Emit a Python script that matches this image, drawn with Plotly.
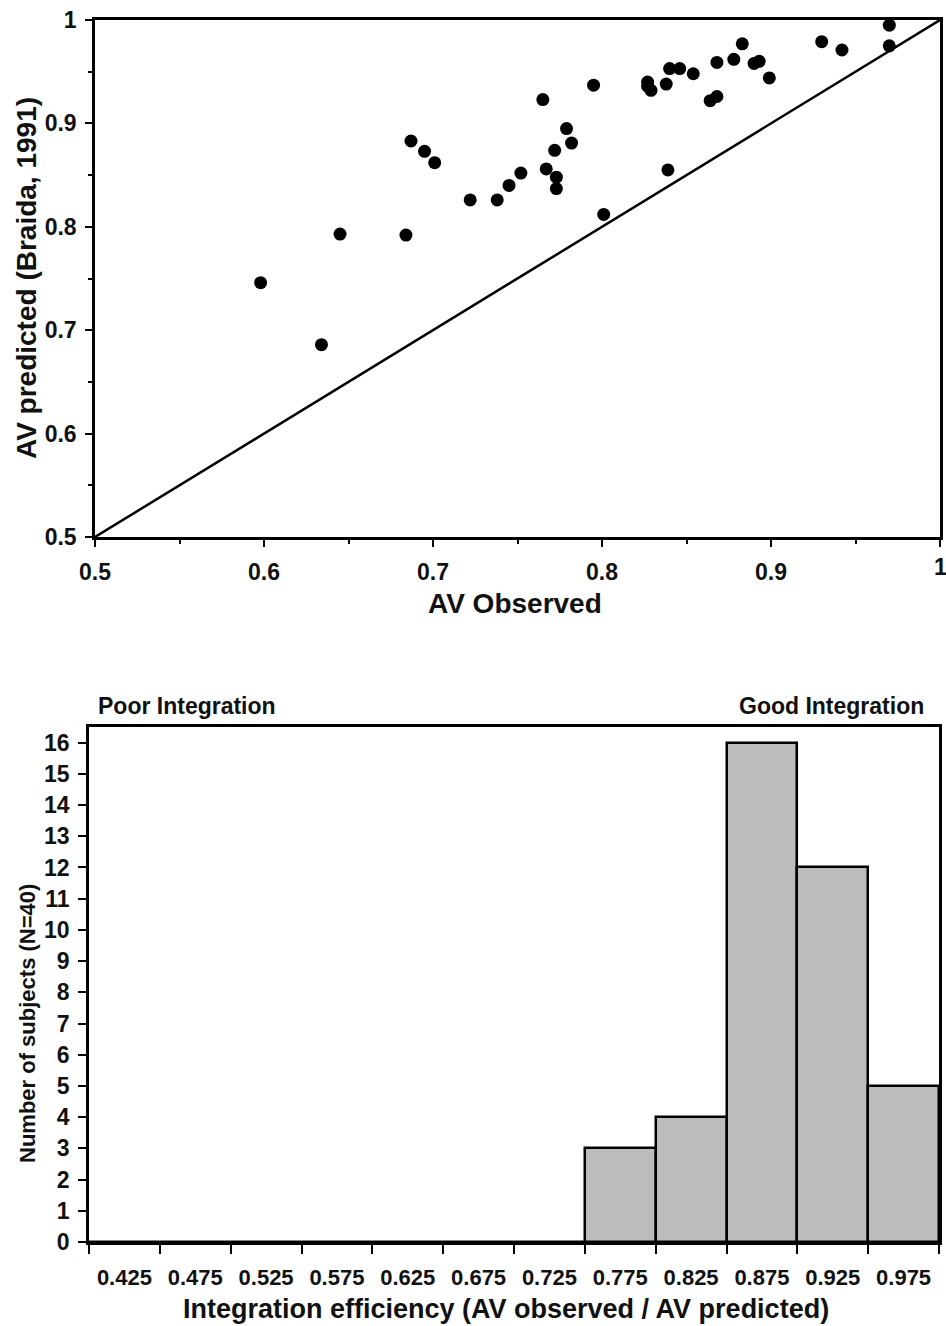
import plotly.graph_objects as go

# ---- Scatter data: AV observed vs AV predicted (Braida, 1991)
av_observed = [0.598, 0.634, 0.645, 0.684, 0.687, 0.695, 0.701, 0.722,
               0.738, 0.745, 0.752, 0.765, 0.767, 0.772, 0.773, 0.773,
               0.779, 0.782, 0.795, 0.801, 0.827, 0.829, 0.827, 0.838,
               0.839, 0.840, 0.846, 0.854, 0.864, 0.868, 0.868, 0.878,
               0.883, 0.890, 0.893, 0.899, 0.930, 0.942, 0.970, 0.970]
av_predicted = [0.746, 0.686, 0.793, 0.792, 0.883, 0.873, 0.862, 0.826,
                0.826, 0.840, 0.852, 0.923, 0.856, 0.874, 0.848, 0.837,
                0.895, 0.881, 0.937, 0.812, 0.940, 0.932, 0.936, 0.938,
                0.855, 0.953, 0.953, 0.948, 0.922, 0.926, 0.959, 0.962,
                0.977, 0.958, 0.960, 0.944, 0.979, 0.971, 0.995, 0.975]
identity_line = [0.5, 1.0]

# ---- Histogram data: integration efficiency
bin_centers = [0.425, 0.475, 0.525, 0.575, 0.625, 0.675,
               0.725, 0.775, 0.825, 0.875, 0.925, 0.975]
bin_labels = ["0.425", "0.475", "0.525", "0.575", "0.625", "0.675",
              "0.725", "0.775", "0.825", "0.875", "0.925", "0.975"]
counts = [0, 0, 0, 0, 0, 0, 0, 3, 4, 16, 12, 5]

FONT = "Liberation Sans, Arial, sans-serif"
W, H = 946, 1326
INK = "#111"

fig = go.Figure()

fig.add_trace(go.Scatter(
    x=identity_line, y=identity_line, mode="lines",
    line=dict(color="black", width=2.5), xaxis="x", yaxis="y",
    showlegend=False, hoverinfo="skip"))
fig.add_trace(go.Scatter(
    x=av_observed, y=av_predicted, mode="markers",
    marker=dict(color="black", size=13), xaxis="x", yaxis="y",
    cliponaxis=False, showlegend=False))

fig.add_trace(go.Bar(
    x=bin_centers, y=counts, width=0.05,
    marker=dict(color="#bcbcbc", line=dict(color="black", width=2.5)),
    xaxis="x2", yaxis="y2", showlegend=False))

def tf(size):
    return dict(family=FONT, size=size, color=INK, weight="bold")

axis_common = dict(showgrid=False, zeroline=False, showline=True,
                   linecolor="black", linewidth=2.5, mirror=True,
                   ticks="outside", tickcolor="black", tickwidth=2,
                   automargin=False, tickfont=tf(23))

top_y0 = (H - 537) / H
top_y1 = (H - 20) / H
bot_y0 = (H - 1242) / H
bot_y1 = (H - 727) / H

def py(pix):
    return (H - pix) / H

def px(pix):
    return pix / W

fig.update_layout(
    width=W, height=H,
    margin=dict(l=0, r=0, t=0, b=0),
    paper_bgcolor="white", plot_bgcolor="white",
    font=dict(family=FONT, color="black"),
    bargap=0,
    xaxis=dict(axis_common, domain=[95 / W, 940 / W], range=[0.5, 1.0],
               dtick=0.1, tick0=0.5, ticklen=7, ticklabelstandoff=6,
               minor=dict(dtick=0.05, tick0=0.5, ticks="outside", ticklen=4,
                          tickcolor="black", showgrid=False),
               anchor="y"),
    yaxis=dict(axis_common, domain=[top_y0, top_y1], range=[0.5, 1.0],
               dtick=0.1, tick0=0.5, ticklen=7, ticklabelstandoff=4,
               minor=dict(dtick=0.05, tick0=0.5, ticks="outside", ticklen=4,
                          tickcolor="black", showgrid=False),
               anchor="x"),
    xaxis2=dict(axis_common, domain=[89 / W, 939 / W], range=[0.4, 1.0],
                tickvals=bin_centers, ticktext=bin_labels, ticklen=0,
                ticklabelstandoff=14, tickfont=tf(22),
                minor=dict(dtick=0.05, tick0=0.4, ticks="outside", ticklen=9,
                           tickcolor="black", showgrid=False),
                anchor="y2"),
    yaxis2=dict(axis_common, domain=[bot_y0, bot_y1], range=[0, 16.5],
                dtick=1, tick0=0, ticklen=8, ticklabelstandoff=4,
                anchor="x2"),
    annotations=[
        dict(text="1", xref="x", yref="paper", x=1.0, y=py(567),
             xanchor="center", yanchor="middle", showarrow=False,
             font=tf(23)),
        dict(text="AV Observed", xref="paper", yref="paper",
             x=px(515), y=py(603), xanchor="center", yanchor="middle",
             showarrow=False, font=tf(28)),
        dict(text="AV predicted (Braida, 1991)", xref="paper", yref="paper",
             x=px(26), y=py(278), xanchor="center", yanchor="middle",
             textangle=-90, showarrow=False, font=tf(28)),
        dict(text="Integration efficiency (AV observed / AV predicted)",
             xref="paper", yref="paper",
             x=px(506), y=py(1309), xanchor="center", yanchor="middle",
             showarrow=False, font=tf(27)),
        dict(text="Number of subjects (N=40)", xref="paper", yref="paper",
             x=px(27), y=py(1024), xanchor="center", yanchor="middle",
             textangle=-90, showarrow=False, font=tf(22)),
        dict(text="Poor Integration", xref="paper", yref="paper",
             x=px(96), y=py(706), xanchor="left", yanchor="middle",
             showarrow=False, font=tf(23)),
        dict(text="Good Integration", xref="paper", yref="paper",
             x=px(926), y=py(706), xanchor="right", yanchor="middle",
             showarrow=False, font=tf(23)),
    ],
)

fig.write_html("out.html",
               config={"displayModeBar": False},
               post_script="document.body.style.margin='0';"
                           "document.body.style.overflow='hidden';")
